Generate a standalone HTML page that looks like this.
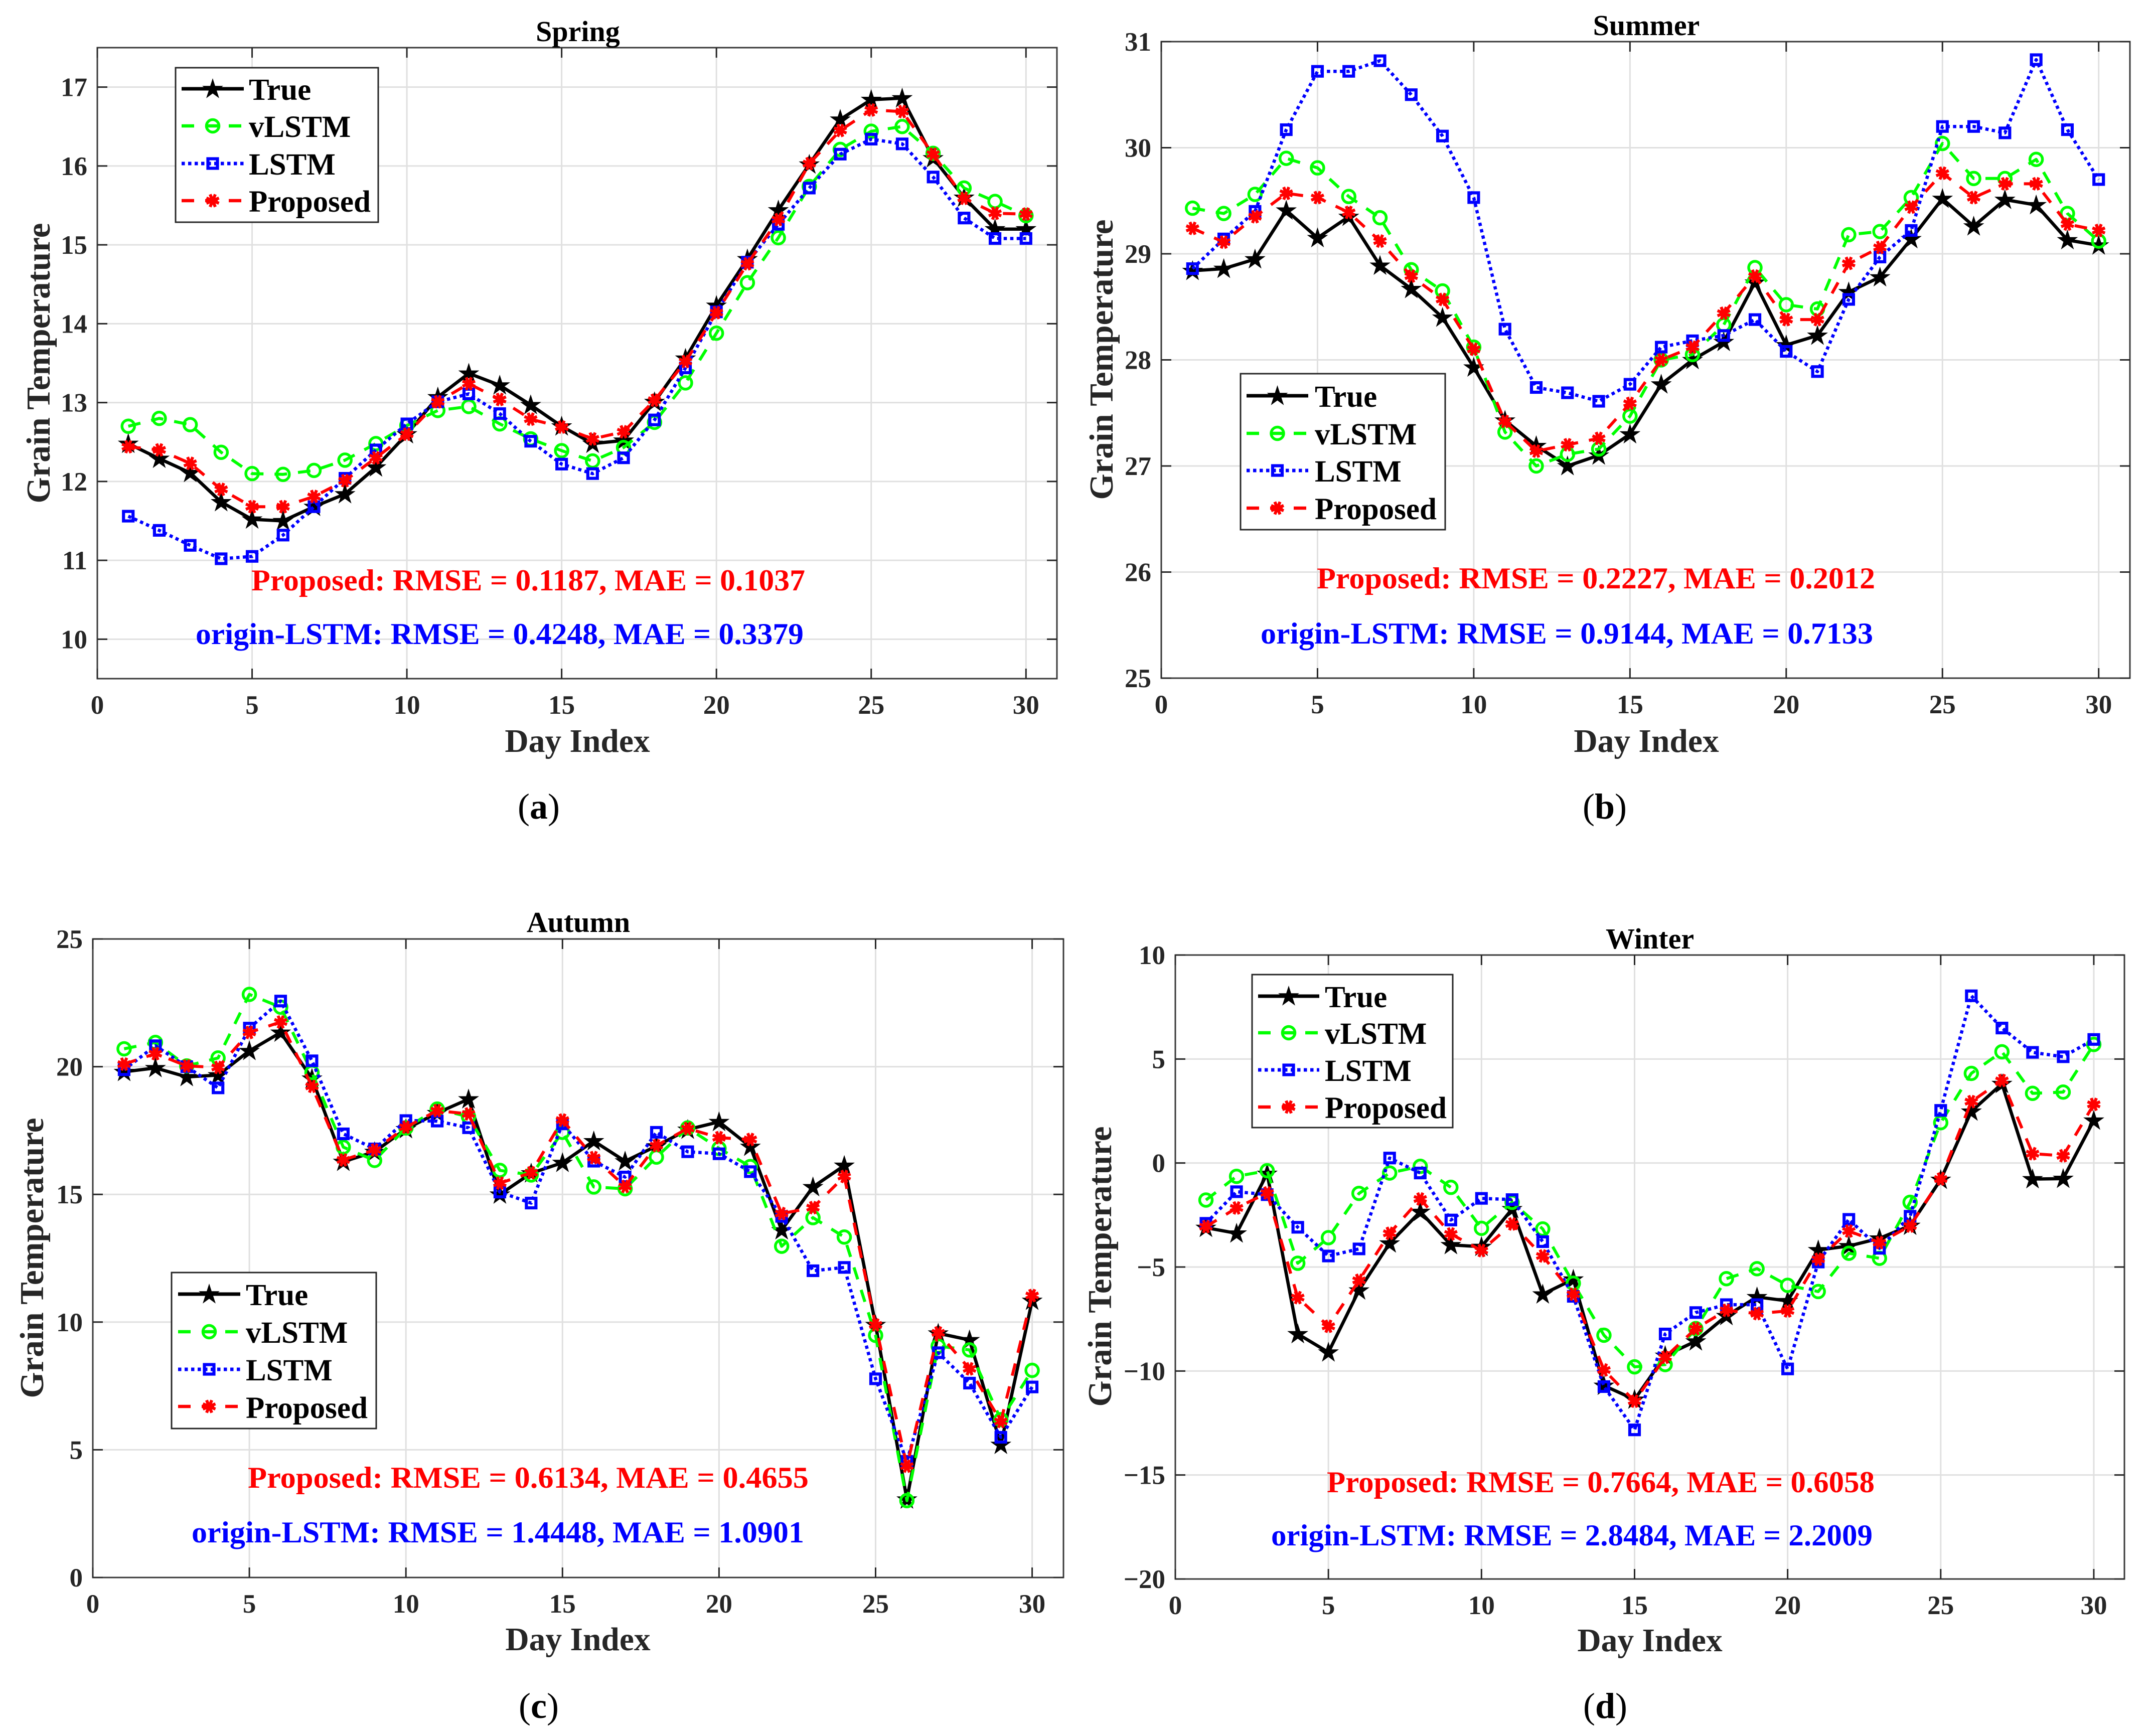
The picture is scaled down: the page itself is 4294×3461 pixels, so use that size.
<!DOCTYPE html>
<html lang="en">
<head>
<meta charset="utf-8">
<title>Grain Temperature Forecasts by Season</title>
<style>
  html, body { margin: 0; padding: 0; background: #fff; }
  svg { display: block; font-family: "Liberation Serif", serif; font-weight: bold; }
  .title { font-size: 58px; text-anchor: middle; fill: #000; }
  .xlabel, .ylabel { font-size: 65.5px; text-anchor: middle; fill: #262626; }
  .ylabel { font-size: 67px; }
  .legend-text { font-size: 61px; fill: #000; }
  .note { font-size: 60.5px; }
  .caption { font-size: 72px; fill: #000; font-weight: normal; text-anchor: middle; }
  .caption tspan { font-weight: bold; }
  .legend-box { fill: #fff; stroke: #262626; stroke-width: 3; }
</style>
</head>
<body>
<svg id="figure" xmlns="http://www.w3.org/2000/svg" width="4294" height="3461" viewBox="0 0 4294 3461">
  <rect x="0" y="0" width="4294" height="3461" fill="#fff"/>

  <!-- Spring -->
  <g>
    <g id="plot-spring"></g>
    <rect class="legend-box" x="350" y="135" width="404" height="308"/>
    <g id="swatch-spring"></g>
    <text class="legend-text" x="496" y="199">True</text>
    <text class="legend-text" x="496" y="273">vLSTM</text>
    <text class="legend-text" x="496" y="348">LSTM</text>
    <text class="legend-text" x="496" y="422">Proposed</text>
    <text class="title" x="1152" y="82">Spring</text>
    <text class="xlabel" x="1151" y="1499">Day Index</text>
    <text class="ylabel" transform="translate(99 724) rotate(-90)">Grain Temperature</text>
    <text class="note" fill="#ff0000" x="501" y="1177" textLength="1104" lengthAdjust="spacingAndGlyphs">Proposed: RMSE = 0.1187, MAE = 0.1037</text>
    <text class="note" fill="#0000ff" x="390" y="1284" textLength="1212" lengthAdjust="spacingAndGlyphs">origin-LSTM: RMSE = 0.4248, MAE = 0.3379</text>
    <text class="caption" x="1074" y="1632">(<tspan>a</tspan>)</text>
  </g>

  <!-- Summer -->
  <g>
    <g id="plot-summer"></g>
    <rect class="legend-box" x="2473" y="745" width="408" height="311"/>
    <g id="swatch-summer"></g>
    <text class="legend-text" x="2621" y="811">True</text>
    <text class="legend-text" x="2621" y="886">vLSTM</text>
    <text class="legend-text" x="2621" y="960">LSTM</text>
    <text class="legend-text" x="2621" y="1035">Proposed</text>
    <text class="title" x="3282" y="70">Summer</text>
    <text class="xlabel" x="3282" y="1499">Day Index</text>
    <text class="ylabel" transform="translate(2218 717) rotate(-90)">Grain Temperature</text>
    <text class="note" fill="#ff0000" x="2625" y="1173" textLength="1113" lengthAdjust="spacingAndGlyphs">Proposed: RMSE = 0.2227, MAE = 0.2012</text>
    <text class="note" fill="#0000ff" x="2513" y="1283" textLength="1221" lengthAdjust="spacingAndGlyphs">origin-LSTM: RMSE = 0.9144, MAE = 0.7133</text>
    <text class="caption" x="3199" y="1632">(<tspan>b</tspan>)</text>
  </g>

  <!-- Autumn -->
  <g>
    <g id="plot-autumn"></g>
    <rect class="legend-box" x="342" y="2537" width="408" height="311"/>
    <g id="swatch-autumn"></g>
    <text class="legend-text" x="490" y="2602">True</text>
    <text class="legend-text" x="490" y="2677">vLSTM</text>
    <text class="legend-text" x="490" y="2752">LSTM</text>
    <text class="legend-text" x="490" y="2827">Proposed</text>
    <text class="title" x="1153" y="1858">Autumn</text>
    <text class="xlabel" x="1152" y="3290">Day Index</text>
    <text class="ylabel" transform="translate(86 2508) rotate(-90)">Grain Temperature</text>
    <text class="note" fill="#ff0000" x="494" y="2966" textLength="1118" lengthAdjust="spacingAndGlyphs">Proposed: RMSE = 0.6134, MAE = 0.4655</text>
    <text class="note" fill="#0000ff" x="382" y="3075" textLength="1221" lengthAdjust="spacingAndGlyphs">origin-LSTM: RMSE = 1.4448, MAE = 1.0901</text>
    <text class="caption" x="1074" y="3425">(<tspan>c</tspan>)</text>
  </g>

  <!-- Winter -->
  <g>
    <g id="plot-winter"></g>
    <rect class="legend-box" x="2496" y="1943" width="400" height="305"/>
    <g id="swatch-winter"></g>
    <text class="legend-text" x="2641" y="2008">True</text>
    <text class="legend-text" x="2641" y="2081">vLSTM</text>
    <text class="legend-text" x="2641" y="2155">LSTM</text>
    <text class="legend-text" x="2641" y="2229">Proposed</text>
    <text class="title" x="3289" y="1891">Winter</text>
    <text class="xlabel" x="3289" y="3292">Day Index</text>
    <text class="ylabel" transform="translate(2215 2525) rotate(-90)">Grain Temperature</text>
    <text class="note" fill="#ff0000" x="2645" y="2975" textLength="1092" lengthAdjust="spacingAndGlyphs">Proposed: RMSE = 0.7664, MAE = 0.6058</text>
    <text class="note" fill="#0000ff" x="2534" y="3081" textLength="1199" lengthAdjust="spacingAndGlyphs">origin-LSTM: RMSE = 2.8484, MAE = 2.2009</text>
    <text class="caption" x="3200" y="3425">(<tspan>d</tspan>)</text>
  </g>
</svg>

<script>
const days = [1,2,3,4,5,6,7,8,9,10,11,12,13,14,15,16,17,18,19,20,21,22,23,24,25,26,27,28,29,30];
const xTicks = [0,5,10,15,20,25,30];
const xTickLabels = ['0','5','10','15','20','25','30'];

const springTicks = [10,11,12,13,14,15,16,17];
const springTickLabels = ['10','11','12','13','14','15','16','17'];
const springTrue = [12.48,12.29,12.11,11.74,11.52,11.50,11.68,11.84,12.18,12.60,13.07,13.37,13.22,12.97,12.70,12.48,12.52,13.01,13.56,14.23,14.82,15.44,16.02,16.59,16.84,16.86,16.10,15.60,15.20,15.20];
const springVLSTM = [12.70,12.80,12.72,12.37,12.10,12.09,12.14,12.27,12.48,12.71,12.90,12.95,12.73,12.54,12.39,12.26,12.43,12.75,13.25,13.88,14.52,15.09,15.74,16.21,16.44,16.50,16.16,15.72,15.55,15.37];
const springLSTM = [11.56,11.38,11.19,11.02,11.05,11.32,11.68,12.04,12.40,12.73,13.01,13.11,12.86,12.51,12.22,12.10,12.30,12.78,13.44,14.15,14.78,15.26,15.72,16.15,16.34,16.28,15.86,15.34,15.08,15.08];
const springProposed = [12.44,12.40,12.23,11.90,11.68,11.68,11.81,12.01,12.30,12.60,13.01,13.24,13.04,12.79,12.69,12.54,12.63,13.03,13.52,14.14,14.76,15.32,16.03,16.45,16.71,16.69,16.15,15.59,15.40,15.39];

const summerTicks = [25,26,27,28,29,30,31];
const summerTickLabels = ['25','26','27','28','29','30','31'];
const summerTrue = [28.84,28.86,28.95,29.41,29.15,29.35,28.89,28.67,28.40,27.93,27.43,27.19,27.00,27.10,27.30,27.77,28.00,28.17,28.73,28.14,28.23,28.64,28.78,29.14,29.52,29.26,29.51,29.46,29.13,29.08];
const summerVLSTM = [29.43,29.38,29.56,29.90,29.81,29.54,29.34,28.85,28.65,28.12,27.32,27.00,27.11,27.16,27.47,28.00,28.05,28.33,28.87,28.52,28.48,29.18,29.21,29.53,30.04,29.71,29.71,29.89,29.38,29.12];
const summerLSTM = [28.86,29.14,29.40,30.17,30.72,30.72,30.82,30.50,30.11,29.53,28.29,27.74,27.69,27.61,27.77,28.12,28.18,28.23,28.38,28.08,27.89,28.57,28.97,29.22,30.20,30.20,30.14,30.83,30.17,29.70];
const summerProposed = [29.24,29.11,29.35,29.57,29.53,29.39,29.12,28.79,28.57,28.10,27.42,27.14,27.20,27.26,27.59,28.00,28.12,28.44,28.79,28.38,28.38,28.91,29.06,29.44,29.76,29.53,29.66,29.66,29.28,29.22];

const autumnTicks = [0,5,10,15,20,25];
const autumnTickLabels = ['0','5','10','15','20','25'];
const autumnTrue = [19.8,19.95,19.6,19.67,20.62,21.34,19.54,16.28,16.67,17.56,18.19,18.73,15.0,15.83,16.24,17.09,16.3,16.89,17.54,17.84,16.87,13.6,15.29,16.13,9.89,3.06,9.56,9.3,5.2,10.84];
const autumnVLSTM = [20.7,20.95,20.03,20.34,22.83,22.33,19.77,16.85,16.33,17.6,18.34,18.04,15.94,15.76,17.43,15.29,15.22,16.46,17.6,16.8,16.09,12.97,14.09,13.33,9.48,3.01,9.06,8.91,6.18,8.11];
const autumnLSTM = [19.88,20.82,20.0,19.17,21.51,22.57,20.23,17.37,16.78,17.89,17.87,17.61,15.09,14.66,17.76,16.3,15.68,17.43,16.67,16.59,15.89,14.14,12.01,12.14,7.78,4.55,8.8,7.61,5.49,7.46];
const autumnProposed = [20.1,20.51,20.03,19.97,21.34,21.75,19.23,16.35,16.74,17.63,18.28,18.15,15.44,15.85,17.91,16.44,15.31,16.91,17.58,17.22,17.15,14.25,14.48,15.7,9.89,4.36,9.58,8.17,6.11,11.04];

const winterTicks = [-20,-15,-10,-5,0,5,10];
const winterTickLabels = ['\u221220','\u221215','\u221210','\u22125','0','5','10'];
const winterTrue = [-3.11,-3.38,-0.51,-8.22,-9.1,-6.12,-3.86,-2.34,-3.94,-4.02,-2.21,-6.31,-5.59,-10.7,-11.37,-9.26,-8.57,-7.35,-6.44,-6.63,-4.18,-3.99,-3.62,-3.01,-0.8,2.48,3.81,-0.77,-0.75,2.05];
const winterVLSTM = [-1.78,-0.64,-0.37,-4.82,-3.59,-1.46,-0.48,-0.16,-1.17,-3.14,-1.89,-3.17,-5.78,-8.28,-9.8,-9.69,-7.96,-5.56,-5.08,-5.88,-6.18,-4.34,-4.58,-1.89,1.94,4.31,5.35,3.35,3.41,5.7];
const winterLSTM = [-2.9,-1.38,-1.52,-3.09,-4.47,-4.13,0.24,-0.48,-2.74,-1.7,-1.76,-3.78,-6.41,-10.75,-12.83,-8.22,-7.19,-6.81,-6.81,-9.9,-4.76,-2.71,-4.1,-2.56,2.53,8.04,6.49,5.32,5.11,5.94];
const winterProposed = [-3.06,-2.16,-1.44,-6.47,-7.85,-5.64,-3.38,-1.73,-3.41,-4.21,-2.93,-4.47,-6.31,-9.95,-11.45,-9.34,-7.96,-7.08,-7.24,-7.11,-4.63,-3.27,-3.83,-3.03,-0.77,2.95,3.97,0.45,0.35,2.82];

const NS = 'http://www.w3.org/2000/svg';

function make(tag, attrs, parent) {
  const el = document.createElementNS(NS, tag);
  for (const k in attrs) el.setAttribute(k, attrs[k]);
  parent.appendChild(el);
  return el;
}

const seriesStyles = {
  true: { color: '#000000', width: 6.5, dash: '' },
  vlstm: { color: '#00ff00', width: 6, dash: '25 22' },
  lstm: { color: '#0000ff', width: 6.5, dash: '6.5 6.5' },
  proposed: { color: '#ff0000', width: 6, dash: '25 22' }
};

function drawMarker(kind, cx, cy, parent) {
  let el;
  if (kind === 'true') {
    const pts = [];
    for (let i = 0; i < 10; i++) {
      const r = i % 2 === 0 ? 22 : 8.4;
      const a = -Math.PI / 2 + i * Math.PI / 5;
      pts.push((cx + r * Math.cos(a)).toFixed(1) + ',' + (cy + 1 + r * Math.sin(a)).toFixed(1));
    }
    el = make('polygon', { points: pts.join(' '), fill: '#000' }, parent);
  } else if (kind === 'vlstm') {
    el = make('circle', { cx: cx, cy: cy, r: 12.5, fill: 'none', stroke: '#00ff00', 'stroke-width': 5.5 }, parent);
  } else if (kind === 'lstm') {
    el = make('rect', { x: cx - 9.5, y: cy - 9.5, width: 19, height: 19, fill: 'none', stroke: '#0000ff', 'stroke-width': 6.2 }, parent);
  } else {
    el = make('g', { stroke: '#ff0000', 'stroke-width': 6 }, parent);
    for (let i = 0; i < 4; i++) {
      const a = i * Math.PI / 4 + Math.PI / 8;
      const dx = 13.5 * Math.cos(a), dy = 13.5 * Math.sin(a);
      make('line', { x1: cx - dx, y1: cy - dy, x2: cx + dx, y2: cy + dy }, el);
    }
    make('circle', { cx: cx, cy: cy, r: 8, fill: '#ff0000', stroke: 'none' }, el);
  }
  
  
}

function drawChart(cfg) {
  const root = document.getElementById('plot-' + cfg.id);
  const xScale = function (v) { return cfg.left + (v - 0) / (31 - 0) * (cfg.right - cfg.left); };
  const yScale = function (v) { return cfg.bottom - (v - cfg.yMin) / (cfg.yMax - cfg.yMin) * (cfg.bottom - cfg.top); };

  const grid = make('g', { stroke: '#e0e0e0', 'stroke-width': 3 }, root);
  
  
  xTicks.forEach(function (t) {
    make('line', { x1: xScale(t), x2: xScale(t), y1: cfg.top, y2: cfg.bottom }, grid);
  });
  cfg.yTicks.forEach(function (t) {
    make('line', { x1: cfg.left, x2: cfg.right, y1: yScale(t), y2: yScale(t) }, grid);
  });

  const box = make('rect', { x: cfg.left, y: cfg.top, width: cfg.right - cfg.left, height: cfg.bottom - cfg.top, fill: 'none', stroke: '#3a3a3a', 'stroke-width': 3 }, root);
  
  

  const ticks = make('g', { stroke: '#262626', 'stroke-width': 3 }, root);
  
  
  const tickLen = 20;
  xTicks.forEach(function (t, i) {
    const x = xScale(t);
    make('line', { x1: x, x2: x, y1: cfg.bottom, y2: cfg.bottom - tickLen }, ticks);
    make('line', { x1: x, x2: x, y1: cfg.top, y2: cfg.top + tickLen }, ticks);
    const label = make('text', { x: x, y: cfg.bottom + 70, 'font-size': 53, 'text-anchor': 'middle', fill: '#262626' }, root);
    
    
    label.textContent = xTickLabels[i];
  });
  cfg.yTicks.forEach(function (t, i) {
    const y = yScale(t);
    make('line', { x1: cfg.left, x2: cfg.left + tickLen, y1: y, y2: y }, ticks);
    make('line', { x1: cfg.right, x2: cfg.right - tickLen, y1: y, y2: y }, ticks);
    const label = make('text', { x: cfg.left - 20, y: y + 18, 'font-size': 53, 'text-anchor': 'end', fill: '#262626' }, root);
    
    
    label.textContent = cfg.yLabels[i];
  });

  cfg.series.forEach(function (s) {
    const style = seriesStyles[s.kind];
    const g = make('g', {}, root);
    
    
    const pts = days.map(function (d, i) { return xScale(d).toFixed(1) + ',' + yScale(s.values[i]).toFixed(1); }).join(' ');
    const line = make('polyline', { points: pts, fill: 'none', stroke: style.color, 'stroke-width': style.width, 'stroke-linejoin': 'round' }, g);
    if (style.dash) line.setAttribute('stroke-dasharray', style.dash);
    
    
    days.forEach(function (d, i) {
      drawMarker(s.kind, xScale(d), yScale(s.values[i]), g);
    });
  });

  const sw = document.getElementById('swatch-' + cfg.id);
  ['true', 'vlstm', 'lstm', 'proposed'].forEach(function (kind, i) {
    const style = seriesStyles[kind];
    const y = cfg.legendRows[i];
    const line = make('line', { x1: cfg.legendX0, x2: cfg.legendX1, y1: y, y2: y, stroke: style.color, 'stroke-width': style.width + 0.5 }, sw);
    if (style.dash) line.setAttribute('stroke-dasharray', style.dash);
    
    
    drawMarker(kind, (cfg.legendX0 + cfg.legendX1) / 2, y, sw);
  });
}

drawChart({
  id: 'spring', left: 194, right: 2107, top: 95, bottom: 1353, yMin: 9.5, yMax: 17.5,
  yTicks: springTicks, yLabels: springTickLabels,
  series: [{ kind: 'true', values: springTrue }, { kind: 'vlstm', values: springVLSTM }, { kind: 'lstm', values: springLSTM }, { kind: 'proposed', values: springProposed }],
  legendX0: 362, legendX1: 486, legendRows: [177, 251, 326, 400]
});
drawChart({
  id: 'summer', left: 2315, right: 4246, top: 83, bottom: 1352, yMin: 25, yMax: 31,
  yTicks: summerTicks, yLabels: summerTickLabels,
  series: [{ kind: 'true', values: summerTrue }, { kind: 'vlstm', values: summerVLSTM }, { kind: 'lstm', values: summerLSTM }, { kind: 'proposed', values: summerProposed }],
  legendX0: 2485, legendX1: 2608, legendRows: [789, 864, 938, 1013]
});
drawChart({
  id: 'autumn', left: 185, right: 2120, top: 1872, bottom: 3145, yMin: 0, yMax: 25,
  yTicks: autumnTicks, yLabels: autumnTickLabels,
  series: [{ kind: 'true', values: autumnTrue }, { kind: 'vlstm', values: autumnVLSTM }, { kind: 'lstm', values: autumnLSTM }, { kind: 'proposed', values: autumnProposed }],
  legendX0: 355, legendX1: 479, legendRows: [2580, 2655, 2730, 2804]
});
drawChart({
  id: 'winter', left: 2343, right: 4235, top: 1904, bottom: 3148, yMin: -20, yMax: 10,
  yTicks: winterTicks, yLabels: winterTickLabels,
  series: [{ kind: 'true', values: winterTrue }, { kind: 'vlstm', values: winterVLSTM }, { kind: 'lstm', values: winterLSTM }, { kind: 'proposed', values: winterProposed }],
  legendX0: 2508, legendX1: 2630, legendRows: [1986, 2059, 2133, 2207]
});
</script>
</body>
</html>
